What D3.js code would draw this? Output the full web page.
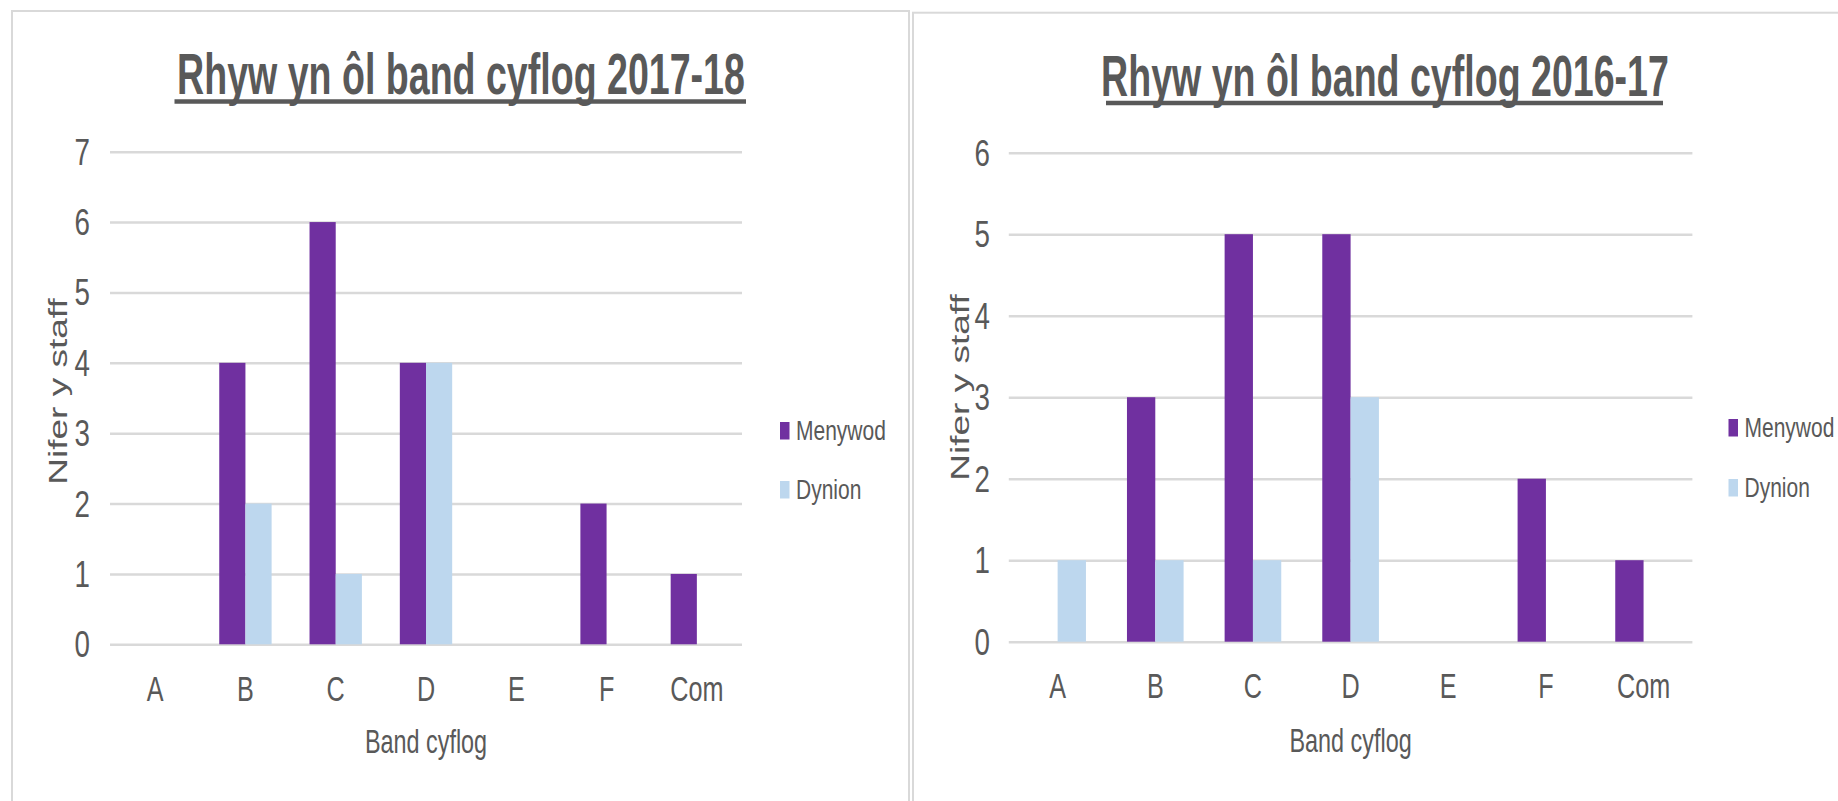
<!DOCTYPE html>
<meta charset="utf-8">
<style>

body {
  margin: 0;
  background-color: #fff;
}

svg {
  display: block;
}

text {
  font-family: "Liberation Sans", Arial, sans-serif;
  fill: #595959;
}

.grid path {
  display: none;
}

.grid line {
  stroke: #d9d9d9;
  stroke-width: 2.5px;
}

.xaxis path,
.xaxis line {
  display: none;
}

.frame {
  fill: none;
  stroke: #d9d9d9;
  stroke-width: 2px;
}

</style>
<body>
<svg width="1838" height="801"></svg>
<script src="https://d3js.org/d3.v7.min.js"></script>
<script>

// data
var bands = ["A", "B", "C", "D", "E", "F", "Com"];
var seriesNames = ["Menywod", "Dynion"];
var seriesColors = ["#7030a0", "#bdd7ee"];

var menywod1718 = [0, 4, 6, 4, 0, 2, 1];
var dynion1718  = [0, 2, 1, 4, 0, 0, 0];
var menywod1617 = [0, 3, 5, 5, 0, 2, 1];
var dynion1617  = [1, 1, 1, 3, 0, 0, 0];

var ticks1718 = [0, 1, 2, 3, 4, 5, 6, 7];
var ticks1617 = [0, 1, 2, 3, 4, 5, 6];

var title1718 = "Rhyw yn ôl band cyflog 2017-18";
var title1617 = "Rhyw yn ôl band cyflog 2016-17";
var xTitle = "Band cyflog";
var yTitle = "Nifer y staff";

var svg = d3.select("svg");

// the source picture is squeezed sideways, so text gets a horizontal scale
function squeezed(g, x, y, k, size, anchor, str) {
  return g.append("text")
    .attr("transform", "translate(" + x + "," + y + ") scale(" + k + ",1)")
    .attr("text-anchor", anchor)
    .style("font-size", size + "px")
    .text(str);
}

function drawPanel(p, menywod, dynion, ticks, title) {
  var g = svg.append("g");

  // panel frame
  g.append("rect")
    .attr("class", "frame")
    .attr("x", p.frameX)
    .attr("y", p.frameY)
    .attr("width", p.frameW)
    .attr("height", 900);

  var x0 = d3.scaleBand()
    .domain(bands)
    .range([p.left, p.right]);

  var bw = x0.bandwidth();
  var x1 = d3.scaleBand()
    .domain(seriesNames)
    .range([bw / 2 - bw * 0.29, bw / 2 + bw * 0.29]);

  var y = d3.scaleLinear()
    .domain([0, d3.max(ticks)])
    .range([p.bottom, p.top]);

  // gridlines
  g.append("g")
    .attr("class", "grid")
    .attr("transform", "translate(" + p.left + ",0)")
    .call(d3.axisLeft(y)
      .tickValues(ticks)
      .tickSize(-(p.right - p.left))
      .tickFormat(""));

  // y tick labels
  ticks.forEach(function(t) {
    squeezed(g, p.tickRight, y(t) + 13, 0.75, 37, "end", t);
  });

  // bars
  var rows = bands.map(function(b, i) {
    return {band: b, values: [menywod[i], dynion[i]]};
  });

  g.selectAll(".band")
      .data(rows)
    .enter().append("g")
      .attr("class", "band")
      .attr("transform", function(d) { return "translate(" + x0(d.band) + ",0)"; })
    .selectAll("rect")
      .data(function(d) { return d.values.map(function(v, j) { return {name: seriesNames[j], value: v, color: seriesColors[j]}; }); })
    .enter().append("rect")
      .attr("x", function(d) { return x1(d.name); })
      .attr("width", x1.bandwidth())
      .attr("y", function(d) { return y(d.value); })
      .attr("height", function(d) { return y(0) - y(d.value); })
      .style("fill", function(d) { return d.color; });

  // x labels
  var xg = g.append("g")
    .attr("class", "xaxis")
    .attr("transform", "translate(0," + p.xLabelBase + ")")
    .call(d3.axisBottom(x0).tickSize(0));

  xg.selectAll("text")
    .attr("x", 0)
    .attr("y", null)
    .attr("dy", null)
    .attr("transform", "scale(0.7,1)")
    .style("font-size", "36px")
    .style("font-family", "Liberation Sans");

  // axis titles
  squeezed(g, (p.left + p.right) / 2, p.xTitleBase, 0.72, 32.5, "middle", xTitle);

  g.append("text")
    .attr("transform", "translate(" + p.yTitleX + "," + p.yTitleY + ") rotate(-90) scale(1,0.72)")
    .attr("text-anchor", "middle")
    .style("font-size", "37px")
    .text(yTitle);

  // chart title with underline
  squeezed(g, p.titleX, p.titleBase, 0.665, 56.5, "middle", title)
    .style("font-weight", "bold");

  g.append("line")
    .attr("x1", p.underX[0])
    .attr("x2", p.underX[1])
    .attr("y1", p.underY)
    .attr("y2", p.underY)
    .style("stroke", "#595959")
    .style("stroke-width", 4.5);

  // legend
  seriesNames.forEach(function(name, j) {
    g.append("rect")
      .attr("x", p.legendX)
      .attr("y", p.legendBase[j] - 18)
      .attr("width", 9.5)
      .attr("height", 17.5)
      .style("fill", seriesColors[j]);
    squeezed(g, p.legendX + 16, p.legendBase[j], 0.75, 28, "start", name);
  });
}

drawPanel({
  frameX: 12, frameY: 11, frameW: 897,
  left: 110, right: 742, top: 151.7, bottom: 644.3,
  tickRight: 90,
  xLabelBase: 701, xTitleBase: 753,
  yTitleX: 67, yTitleY: 391.5,
  titleX: 461, titleBase: 94, underY: 101.5, underX: [174.5, 746],
  legendX: 780, legendBase: [440, 499]
}, menywod1718, dynion1718, ticks1718, title1718);

drawPanel({
  frameX: 913, frameY: 12.7, frameW: 1000,
  left: 1008.8, right: 1692.4, top: 152.7, bottom: 641.7,
  tickRight: 990,
  xLabelBase: 698, xTitleBase: 752,
  yTitleX: 969, yTitleY: 387.5,
  titleX: 1385, titleBase: 95.5, underY: 103, underX: [1106, 1663],
  legendX: 1728.5, legendBase: [437, 497]
}, menywod1617, dynion1617, ticks1617, title1617);

</script>
</body>
